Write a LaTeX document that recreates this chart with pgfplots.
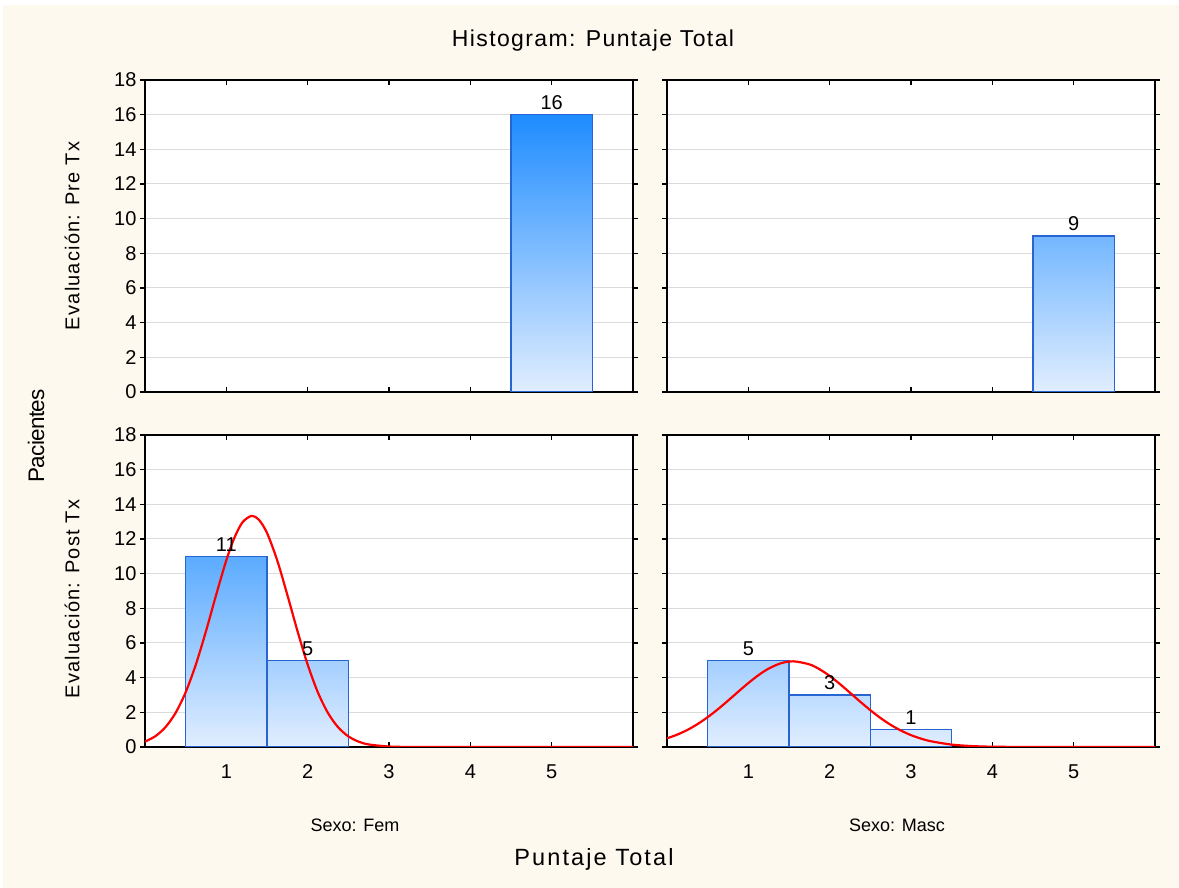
\documentclass[border=0pt]{standalone}
\usepackage{pgfplots}
\pgfplotsset{compat=1.18}
\usepackage{fontspec}
\setmainfont{Liberation Sans}
\newcommand\ticks{\fontsize{20}{20}\selectfont}
\newcommand\titlefont{\fontsize{23}{23}\selectfont\addfontfeatures{LetterSpace=6}}
\newcommand\ylabfont{\fontsize{22.5}{22.5}\selectfont\addfontfeatures{LetterSpace=-3}}
\newcommand\xlabfont{\fontsize{23.5}{23.5}\selectfont\addfontfeatures{LetterSpace=9}}
\newcommand\rowfont{\fontsize{20}{20}\selectfont\addfontfeatures{LetterSpace=6}}
\newcommand\colfont{\fontsize{18}{18}\selectfont}
\definecolor{cream}{RGB}{254,249,238}
\definecolor{barbot}{RGB}{225,238,255}
\definecolor{bar16}{RGB}{30,140,255}
\definecolor{bar11}{RGB}{91,171,255}
\definecolor{bar9}{RGB}{115,183,255}
\definecolor{bar5}{RGB}{164,207,255}
\definecolor{bar3}{RGB}{188,220,255}
\definecolor{bar1}{RGB}{213,232,255}
\definecolor{baredge}{RGB}{40,100,210}
\pgfplotsset{
  panel/.style={
    scale only axis, width=488pt, height=312pt,
    xmin=0, xmax=6, ymin=0, ymax=18,
    xtick={1,2,3,4,5}, ytick={0,2,...,18},
    axis background/.style={fill=white},
    ymajorgrids, grid style={black!14, line width=1pt},
    axis line style={line width=2.2pt},
    xtick align=inside, ytick align=outside,
    major tick length=5pt,
    tick style={black, line width=1.6pt},
    tick label style={font=\ticks},
    /pgf/number format/assume math mode=true,
    xticklabel style={yshift=-14pt},
  },
  hbar/.style={ybar, bar width=1, bar shift=0pt, draw=baredge, line width=1.1pt,
    bottom color=barbot, top color=#1,
    nodes near coords, every node near coord/.append style={font=\ticks, black, yshift=1pt}},
  ncurve/.style={red, line width=2.2pt, smooth, no markers},
}
\begin{document}
\begin{tikzpicture}
\fill[white] (0pt,0pt) rectangle (1179pt,888pt);
\fill[cream] (3pt,0pt) rectangle (1179pt,883pt);

% top-left: Fem, Pre Tx
\begin{axis}[panel, at={(145pt,496pt)}, anchor=south west, xticklabels={}]
\addplot[hbar=bar16] coordinates {(5,16)};
\end{axis}

% top-right: Masc, Pre Tx
\begin{axis}[panel, at={(667pt,496pt)}, anchor=south west, xticklabels={}, yticklabels={}]
\addplot[hbar=bar9] coordinates {(5,9)};
\end{axis}

% bottom-left: Fem, Post Tx
\begin{axis}[panel, at={(145pt,141pt)}, anchor=south west]
\addplot[hbar=bar11] coordinates {(1,11)};
\addplot[hbar=bar5] coordinates {(2,5)};
\addplot[ncurve] coordinates {
(0,0.311) (0.125,0.615) (0.25,1.136) (0.375,1.959) (0.5,3.157) (0.625,4.755)
(0.75,6.685) (0.875,8.78) (1.0,10.775) (1.1,12.08) (1.2,12.97) (1.3125,13.333)
(1.4,13.11) (1.5,12.35) (1.625,10.775) (1.75,8.78) (1.875,6.685) (2.0,4.755)
(2.125,3.157) (2.25,1.959) (2.375,1.136) (2.5,0.615) (2.625,0.311) (2.75,0.147)
(3.0,0.027) (3.25,0.003) (3.5,0) (4.5,0) (6,0)};
\end{axis}

% bottom-right: Masc, Post Tx
\begin{axis}[panel, at={(667pt,141pt)}, anchor=south west, yticklabels={}]
\addplot[hbar=bar5] coordinates {(1,5)};
\addplot[hbar=bar3] coordinates {(2,3)};
\addplot[hbar=bar1] coordinates {(3,1)};
\addplot[ncurve] coordinates {
(0,0.499) (0.125,0.711) (0.25,0.983) (0.375,1.320) (0.5,1.72) (0.625,2.176)
(0.75,2.673) (0.875,3.187) (1.0,3.689) (1.125,4.146) (1.25,4.523) (1.4,4.83)
(1.5556,4.942) (1.75,4.768) (1.875,4.487) (2.0,4.099) (2.125,3.635) (2.25,3.130)
(2.375,2.616) (2.5,2.123) (2.625,1.673) (2.75,1.279) (2.875,0.950) (3.0,0.685)
(3.125,0.479) (3.25,0.326) (3.5,0.138) (3.75,0.052) (4.0,0.017) (4.5,0.001) (6,0)};
\end{axis}

\node[font=\titlefont] at (593pt,847pt) {Histogram: Puntaje Total};
\node[font=\ylabfont, rotate=90] at (36pt,452pt) {Pacientes};
\node[font=\rowfont, rotate=90] at (72pt,652pt) {Evaluación: Pre Tx};
\node[font=\rowfont, rotate=90] at (72pt,289pt) {Evaluación: Post Tx};
\node[font=\colfont] at (355pt,63pt) {Sexo: Fem};
\node[font=\colfont] at (897pt,63pt) {Sexo: Masc};
\node[font=\xlabfont] at (594pt,29pt) {Puntaje Total};
\end{tikzpicture}
\end{document}
